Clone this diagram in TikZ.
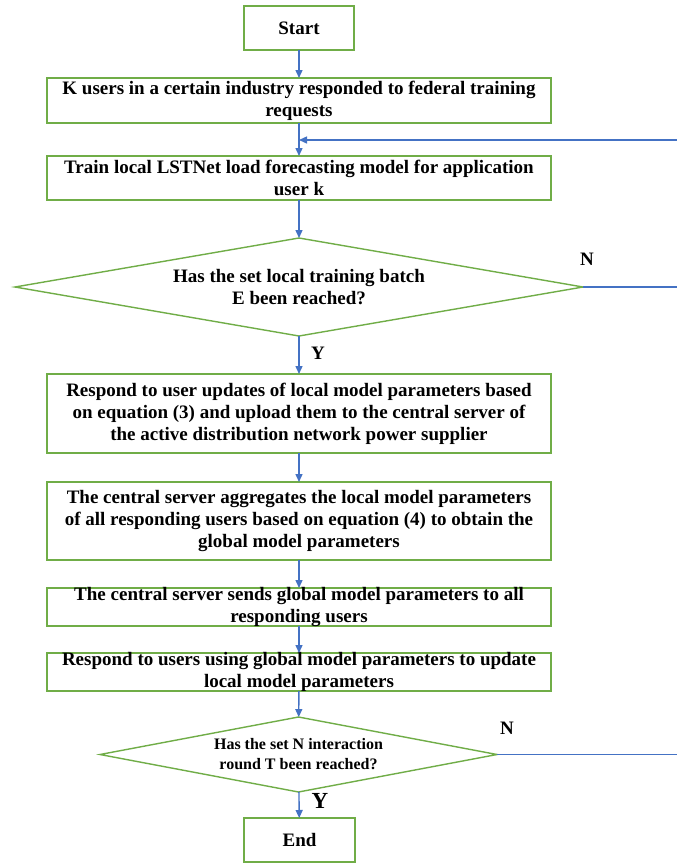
\documentclass[tikz,border=0pt]{standalone}
\usepackage{fontspec}
\setmainfont{Liberation Serif}
\usetikzlibrary{arrows.meta,shapes.geometric}
\definecolor{bgreen}{RGB}{112,173,71}
\definecolor{ablue}{RGB}{68,114,196}
\begin{document}
\begin{tikzpicture}[x=1pt,y=-1pt,
 box/.style={draw=bgreen, line width=1.4pt, rectangle, inner sep=0pt, outer sep=0pt},
 dia/.style={draw=bgreen, line width=1.4pt, diamond, inner sep=0pt, outer sep=0pt},
 txt/.style={font=\bfseries\fontsize{19}{22}\selectfont, align=center, inner sep=0pt},
 smalltxt/.style={font=\bfseries\fontsize{16}{20}\selectfont, align=center, inner sep=0pt},
 flow/.style={draw=ablue, line width=1.4pt, -{Triangle[length=8pt,width=7pt]}},
 plainline/.style={draw=ablue, line width=1.4pt},
 lab/.style={font=\bfseries\fontsize{19}{22}\selectfont, inner sep=0pt}]
\useasboundingbox (0,0) rectangle (677,863);
\fill[white] (0,0) rectangle (677,863);

\node[box, minimum width=110pt, minimum height=44pt] (start) at (299,28) {};
\node[txt] (tstart) at (start) {Start};

\node[box, minimum width=504pt, minimum height=45pt] (b2) at (299,100.5) {};
\node[txt] (t2) at (b2) {K users in a certain industry responded to federal training\\requests};

\node[box, minimum width=504pt, minimum height=44pt] (b3) at (299,178) {};
\node[txt] (t3) at (b3) {Train local LSTNet load forecasting model for application\\user k};

\node[dia, minimum width=568pt, minimum height=98pt] (d1) at (299,287) {};
\node[txt] (td1) at (d1) {Has the set local training batch\\E been reached?};

\node[box, minimum width=504pt, minimum height=79pt] (b4) at (299,413.5) {};
\node[txt] (t4) at (b4) {Respond to user updates of local model parameters based\\on equation (3) and upload them to the central server of\\the active distribution network power supplier};

\node[box, minimum width=504pt, minimum height=78pt] (b5) at (299,521) {};
\node[txt] (t5) at (b5) {The central server aggregates the local model parameters\\of all responding users based on equation (4) to obtain the\\global model parameters};

\node[box, minimum width=504pt, minimum height=38pt] (b6) at (299,607) {};
\node[txt] (t6) at (b6) {The central server sends global model parameters to all\\responding users};

\node[box, minimum width=504pt, minimum height=38pt] (b7) at (299,672) {};
\node[txt] (t7) at (b7) {Respond to users using global model parameters to update\\local model parameters};

\node[dia, minimum width=397pt, minimum height=75pt] (d2) at (298.5,754.5) {};
\node[smalltxt] (td2) at (d2) {Has the set N interaction\\round T been reached?};

\node[box, minimum width=111pt, minimum height=44pt] (end) at (299.5,840) {};
\node[txt] (tend) at (end) {End};

\coordinate (fbR) at (677,140);
\coordinate (fbJ) at (299,140);
\coordinate (nR1) at (677,287);
\coordinate (nR2) at (677,754.5);

\draw[flow] (start) -- (b2);
\draw[flow] (b2) -- (b3);
\draw[flow] (fbR) -- (fbJ);
\draw[flow] (b3) -- (d1);
\draw[plainline] (d1.east) -- (nR1);
\draw[flow] (d1) -- (b4);
\draw[flow] (b4) -- (b5);
\draw[flow] (b5) -- (b6);
\draw[flow] (b6) -- (b7);
\draw[flow] (b7) -- (d2);
\draw[plainline] (d2.east) -- (nR2);
\draw[flow] (d2) -- (end);

\node[lab] (n1) at (587,259) {N};
\node[lab] (y1) at (318,353) {Y};
\node[lab] (n2) at (507,728) {N};
\node[lab, font=\bfseries\fontsize{23}{26}\selectfont] (y2) at (320,801) {Y};
\end{tikzpicture}
\end{document}
